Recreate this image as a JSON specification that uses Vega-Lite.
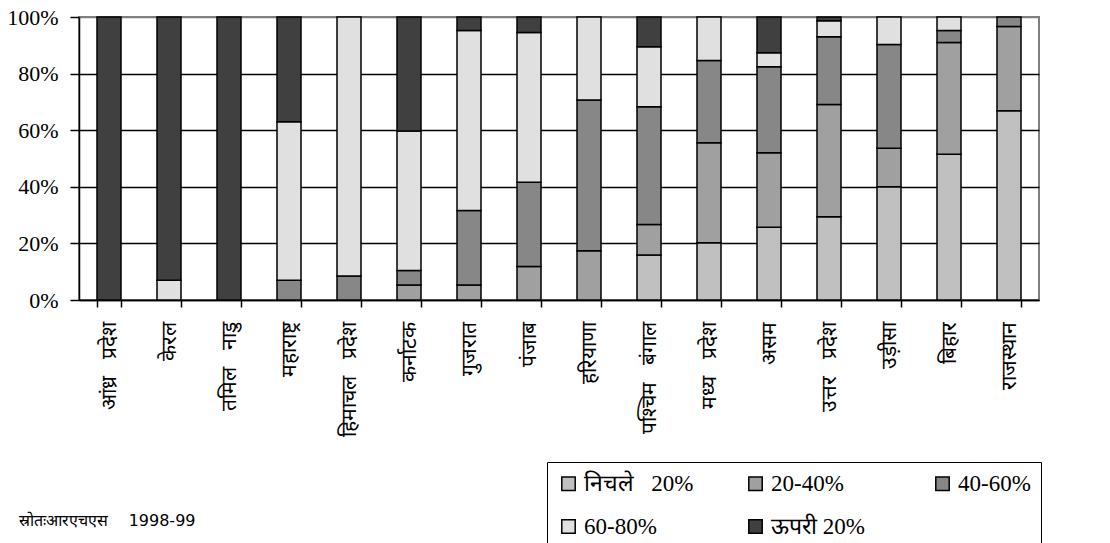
{
  "$schema": "https://vega.github.io/schema/vega-lite/v6.json",
  "width": 960,
  "height": 283,
  "autosize": {"type": "none"},
  "padding": {"left": 79, "top": 17, "right": 71, "bottom": 243},
  "background": "white",
  "config": {"view": {"stroke": "#808080", "strokeWidth": 2}},
  "data": {"values": [
    {"state": "आंध्र प्रदेश", "group": "ऊपरी 20%", "k": 5, "v": 100},
    {"state": "केरल", "group": "60-80%", "k": 4, "v": 7},
    {"state": "केरल", "group": "ऊपरी 20%", "k": 5, "v": 93},
    {"state": "तमिल नाडु", "group": "ऊपरी 20%", "k": 5, "v": 100},
    {"state": "महाराष्ट्र", "group": "40-60%", "k": 3, "v": 7},
    {"state": "महाराष्ट्र", "group": "60-80%", "k": 4, "v": 56},
    {"state": "महाराष्ट्र", "group": "ऊपरी 20%", "k": 5, "v": 37},
    {"state": "हिमाचल प्रदेश", "group": "40-60%", "k": 3, "v": 8.5},
    {"state": "हिमाचल प्रदेश", "group": "60-80%", "k": 4, "v": 91.5},
    {"state": "कर्नाटक", "group": "20-40%", "k": 2, "v": 5.3},
    {"state": "कर्नाटक", "group": "40-60%", "k": 3, "v": 5.1},
    {"state": "कर्नाटक", "group": "60-80%", "k": 4, "v": 49.3},
    {"state": "कर्नाटक", "group": "ऊपरी 20%", "k": 5, "v": 40.3},
    {"state": "गुजरात", "group": "20-40%", "k": 2, "v": 5.3},
    {"state": "गुजरात", "group": "40-60%", "k": 3, "v": 26.3},
    {"state": "गुजरात", "group": "60-80%", "k": 4, "v": 63.6},
    {"state": "गुजरात", "group": "ऊपरी 20%", "k": 5, "v": 4.8},
    {"state": "पंजाब", "group": "20-40%", "k": 2, "v": 11.8},
    {"state": "पंजाब", "group": "40-60%", "k": 3, "v": 29.8},
    {"state": "पंजाब", "group": "60-80%", "k": 4, "v": 52.9},
    {"state": "पंजाब", "group": "ऊपरी 20%", "k": 5, "v": 5.5},
    {"state": "हरियाणा", "group": "20-40%", "k": 2, "v": 17.4},
    {"state": "हरियाणा", "group": "40-60%", "k": 3, "v": 53.3},
    {"state": "हरियाणा", "group": "60-80%", "k": 4, "v": 29.3},
    {"state": "पश्चिम बंगाल", "group": "निचले 20%", "k": 1, "v": 15.9},
    {"state": "पश्चिम बंगाल", "group": "20-40%", "k": 2, "v": 10.8},
    {"state": "पश्चिम बंगाल", "group": "40-60%", "k": 3, "v": 41.6},
    {"state": "पश्चिम बंगाल", "group": "60-80%", "k": 4, "v": 21.2},
    {"state": "पश्चिम बंगाल", "group": "ऊपरी 20%", "k": 5, "v": 10.5},
    {"state": "मध्य प्रदेश", "group": "निचले 20%", "k": 1, "v": 20.2},
    {"state": "मध्य प्रदेश", "group": "20-40%", "k": 2, "v": 35.4},
    {"state": "मध्य प्रदेश", "group": "40-60%", "k": 3, "v": 29.0},
    {"state": "मध्य प्रदेश", "group": "60-80%", "k": 4, "v": 15.4},
    {"state": "असम", "group": "निचले 20%", "k": 1, "v": 25.7},
    {"state": "असम", "group": "20-40%", "k": 2, "v": 26.3},
    {"state": "असम", "group": "40-60%", "k": 3, "v": 30.4},
    {"state": "असम", "group": "60-80%", "k": 4, "v": 5.0},
    {"state": "असम", "group": "ऊपरी 20%", "k": 5, "v": 12.6},
    {"state": "उत्तर प्रदेश", "group": "निचले 20%", "k": 1, "v": 29.4},
    {"state": "उत्तर प्रदेश", "group": "20-40%", "k": 2, "v": 39.7},
    {"state": "उत्तर प्रदेश", "group": "40-60%", "k": 3, "v": 23.9},
    {"state": "उत्तर प्रदेश", "group": "60-80%", "k": 4, "v": 5.7},
    {"state": "उत्तर प्रदेश", "group": "ऊपरी 20%", "k": 5, "v": 1.3},
    {"state": "उड़ीसा", "group": "निचले 20%", "k": 1, "v": 40.0},
    {"state": "उड़ीसा", "group": "20-40%", "k": 2, "v": 13.6},
    {"state": "उड़ीसा", "group": "40-60%", "k": 3, "v": 36.7},
    {"state": "उड़ीसा", "group": "60-80%", "k": 4, "v": 9.7},
    {"state": "बिहार", "group": "निचले 20%", "k": 1, "v": 51.5},
    {"state": "बिहार", "group": "20-40%", "k": 2, "v": 39.5},
    {"state": "बिहार", "group": "40-60%", "k": 3, "v": 4.2},
    {"state": "बिहार", "group": "60-80%", "k": 4, "v": 4.8},
    {"state": "राजस्थान", "group": "निचले 20%", "k": 1, "v": 66.9},
    {"state": "राजस्थान", "group": "20-40%", "k": 2, "v": 29.7},
    {"state": "राजस्थान", "group": "40-60%", "k": 3, "v": 3.4}
  ]},
  "mark": {"type": "bar", "stroke": "black", "strokeWidth": 1.5},
  "encoding": {
    "x": {
      "field": "state", "type": "nominal", "sort": null,
      "scale": {"paddingInner": 0.6, "paddingOuter": 0.3},
      "axis": {
        "title": "स्रोतःआरएचएस\u00a0\u00a0\u00a0 1998-99",
        "titleX": 116, "titleY": 225,
        "titleAlign": "right", "titleBaseline": "alphabetic",
        "titleFont": "DejaVu Sans", "titleFontSize": 16, "titleFontWeight": "normal", "titleColor": "black",
        "labelAngle": -90, "labelAlign": "right", "labelBaseline": "middle",
        "labelExpr": "replace(datum.label, ' ', '\u00a0\u00a0\u00a0')",
        "labelFontSize": 21, "labelColor": "black", "labelPadding": 14,
        "tickBand": "extent", "tickSize": 7, "tickColor": "black", "tickWidth": 1.5,
        "domainColor": "black", "domainWidth": 1.5
      }
    },
    "y": {
      "field": "v", "type": "quantitative", "stack": "normalize",
      "axis": {
        "title": null, "format": ".0%", "values": [0, 0.2, 0.4, 0.6, 0.8, 1],
        "labelFont": "Liberation Serif", "labelFontSize": 22, "labelColor": "black",
        "tickSize": 9, "tickColor": "black", "tickWidth": 1.5, "labelPadding": 12,
        "domainColor": "black", "domainWidth": 1.5,
        "gridColor": {"condition": {"test": "datum.value >= 1", "value": "#808080"}, "value": "black"},
        "gridWidth": 1.5, "gridOpacity": 1
      }
    },
    "color": {
      "field": "group", "type": "nominal",
      "scale": {
        "domain": ["निचले 20%", "20-40%", "40-60%", "60-80%", "ऊपरी 20%"],
        "range": ["#c0c0c0", "#a0a0a0", "#878787", "#e0e0e0", "#404040"]
      },
      "legend": {
        "title": "\u00a0\u00a0\u00a0\u00a0", "titleOrient": "right", "titleFontSize": 40, "titlePadding": 0,
        "orient": "none", "legendX": 468, "legendY": 445,
        "direction": "horizontal", "columns": 3, "gridAlign": "all",
        "strokeColor": "black", "padding": 10,
        "labelExpr": "datum.label == 'निचले 20%' ? '\u00a0\u00a0निचले\u00a0\u00a0 20%' : datum.label",
        "symbolType": "square", "symbolSize": 180, "symbolStrokeColor": "black", "symbolStrokeWidth": 1.5, "symbolOpacity": 1,
        "labelFont": "Liberation Serif", "labelFontSize": 23, "labelColor": "black", "labelLimit": 300,
        "labelOffset": 4, "columnPadding": 50, "rowPadding": 19
      }
    },
    "order": {"field": "k", "type": "quantitative"}
  }
}
